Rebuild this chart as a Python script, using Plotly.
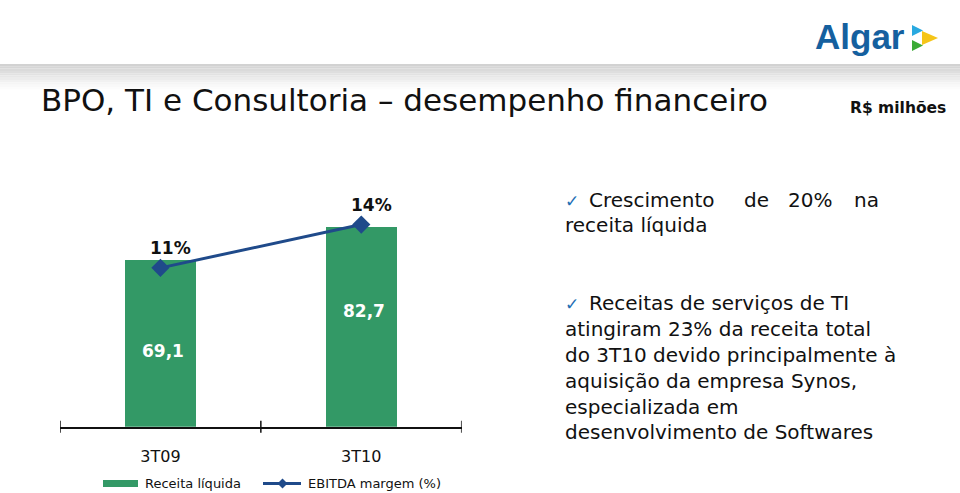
import plotly.graph_objects as go

# ---- data ----
categories = ["3T09", "3T10"]
receita = [69.1, 82.7]
receita_labels = ["69,1", "82,7"]
ebitda_margem = [11, 14]
ebitda_labels = ["11%", "14%"]

title_text = "BPO, TI e Consultoria – desempenho financeiro"
unit_text = "R$ milhões"
legend_names = ["Receita líquida", "EBITDA margem (%)"]

bullet1_words = ["Crescimento", "de", "20%", "na"]
bullet1_line2 = "receita líquida"
bullet2_lines = [
    "Receitas de serviços de TI",
    "atingiram 23% da receita total",
    "do 3T10 devido principalmente à",
    "aquisição da empresa Synos,",
    "especializada em",
    "desenvolvimento de Softwares",
]

W, H = 960, 493
GREEN = "#339966"
BLUE = "#1F4A8A"
FONT = "DejaVu Sans, Verdana, sans-serif"


def px(x):
    return x / W


def py(y):
    return 1 - y / H


axis_y = 426.7
top_y = 180.0
plot_h = axis_y - top_y

fig = go.Figure()
fig.add_trace(go.Bar(
    x=categories, y=receita, marker=dict(color=GREEN, line=dict(width=0)),
    width=0.355, name=legend_names[0], showlegend=False, hoverinfo="skip",
))
fig.add_trace(go.Scatter(
    x=categories, y=ebitda_margem, yaxis="y2", mode="lines+markers",
    line=dict(color=BLUE, width=3),
    marker=dict(symbol="diamond", size=14, color=BLUE),
    name=legend_names[1], showlegend=False, hoverinfo="skip",
))

shapes = []
annotations = []

# header grey gradient band
band_top = 64
greys = ["#d2d2d2", "#d6d6d6", "#dadada", "#dedede", "#e2e2e2", "#e7e7e7",
         "#ececec", "#f1f1f1", "#f5f5f5", "#f9f9f9", "#fcfcfc"]
for i, g in enumerate(greys):
    shapes.append(dict(type="rect", xref="paper", yref="paper",
                       x0=0, x1=1, y0=py(band_top + 2.3 * (i + 1)), y1=py(band_top + 2.3 * i),
                       fillcolor=g, line=dict(width=0), layer="below"))

# logo
annotations.append(dict(text="<b>Algar</b>", x=px(860), y=py(36), xref="paper", yref="paper",
                        showarrow=False, xanchor="center", yanchor="middle",
                        font=dict(family="Liberation Sans, Arial, sans-serif", size=35, color="#15609F")))
tris = [
    ([(912, 25), (912, 36), (923, 30.5)], "#29A9E0"),
    ([(922, 31), (922, 45), (938, 38)], "#F5C518"),
    ([(912, 40), (912, 51), (923, 45.5)], "#3AAA35"),
]
for pts, col in tris:
    path = "M " + " L ".join(f"{px(a):.5f},{py(b):.5f}" for a, b in pts) + " Z"
    shapes.append(dict(type="path", xref="paper", yref="paper", path=path,
                       fillcolor=col, line=dict(width=0)))

# title
annotations.append(dict(text=title_text, x=px(39), y=py(100), xref="paper", yref="paper",
                        showarrow=False, xanchor="left", yanchor="middle",
                        font=dict(family=FONT, size=31, color="#111111")))
annotations.append(dict(text="<b>" + unit_text + "</b>", x=px(948), y=py(108), xref="paper", yref="paper",
                        showarrow=False, xanchor="right", yanchor="middle",
                        font=dict(family=FONT, size=15.5, color="#111111")))

# axis tick marks crossing the axis line
for xv in [-0.5, 0.5, 1.5]:
    shapes.append(dict(type="line", xref="x", yref="paper", x0=xv, x1=xv,
                       y0=py(axis_y + 6), y1=py(axis_y - 6),
                       line=dict(color="#111111", width=1.5)))

# bar value labels
bar_label_y = [31.5, 48.0]
for i, c in enumerate(categories):
    annotations.append(dict(text="<b>" + receita_labels[i] + "</b>", x=c, y=bar_label_y[i],
                            xref="x", yref="y", showarrow=False, xshift=3,
                            font=dict(family=FONT, size=17, color="white")))
    annotations.append(dict(text="<b>" + ebitda_labels[i] + "</b>", x=c, y=ebitda_margem[i],
                            xref="x", yref="y2", showarrow=False, xshift=10, yshift=20,
                            font=dict(family=FONT, size=17, color="#111111")))

# legend
ly = 483.5
shapes.append(dict(type="rect", xref="paper", yref="paper", x0=px(103), x1=px(138),
                   y0=py(ly + 3.5), y1=py(ly - 3.5), fillcolor=GREEN, line=dict(width=0)))
annotations.append(dict(text=legend_names[0], x=px(142.5), y=py(ly), xref="paper", yref="paper",
                        showarrow=False, xanchor="left", yanchor="middle",
                        font=dict(family=FONT, size=13, color="#111111")))
shapes.append(dict(type="line", xref="paper", yref="paper", x0=px(263), x1=px(301),
                   y0=py(ly), y1=py(ly), line=dict(color=BLUE, width=3)))
d = 5
dpath = (f"M {px(282.5-d):.5f},{py(ly):.5f} L {px(282.5):.5f},{py(ly-d):.5f} "
         f"L {px(282.5+d):.5f},{py(ly):.5f} L {px(282.5):.5f},{py(ly+d):.5f} Z")
shapes.append(dict(type="path", xref="paper", yref="paper", path=dpath,
                   fillcolor=BLUE, line=dict(width=0)))
annotations.append(dict(text=legend_names[1], x=px(306), y=py(ly), xref="paper", yref="paper",
                        showarrow=False, xanchor="left", yanchor="middle",
                        font=dict(family=FONT, size=13, color="#111111")))

# right side text
TXT = dict(family=FONT, size=20, color="#111111")
CHECK = dict(family=FONT, size=17, color="#1F6FB5")


def add_text(t, x, y, anchor="left", font=TXT):
    annotations.append(dict(text=t, x=px(x), y=py(y), xref="paper", yref="paper",
                            showarrow=False, xanchor=anchor, yanchor="middle", font=font))


add_text("✓", 563, 201, font=CHECK)
word_x = [587, 742, 786, 852]
for w, xx in zip(bullet1_words, word_x):
    add_text(w, xx, 200)
add_text(bullet1_line2, 563, 225)

add_text("✓", 563, 304, font=CHECK)
line_y = [303, 329, 355, 381, 407, 432]
for i, (t, yy) in enumerate(zip(bullet2_lines, line_y)):
    add_text(t, 587 if i == 0 else 563, yy)

fig.update_layout(
    width=W, height=H, margin=dict(l=0, r=0, t=0, b=0),
    paper_bgcolor="white", plot_bgcolor="white",
    showlegend=False, bargap=0,
    xaxis=dict(domain=[px(60), px(461.7)], type="category", categoryarray=categories,
               range=[-0.5, 1.5], showline=True, linecolor="#111111", linewidth=1.5,
               showgrid=False, zeroline=False, ticks="", ticklabelstandoff=14,
               tickfont=dict(family=FONT, size=16, color="#111111"), fixedrange=True),
    yaxis=dict(domain=[py(axis_y), py(top_y)], range=[0, plot_h / 2.415], visible=False,
               showgrid=False, fixedrange=True),
    yaxis2=dict(domain=[py(axis_y), py(top_y)], range=[0, plot_h / 14.44], overlaying="y",
                visible=False, showgrid=False, fixedrange=True),
    shapes=shapes, annotations=annotations,
)

fig.write_html("out.html")
